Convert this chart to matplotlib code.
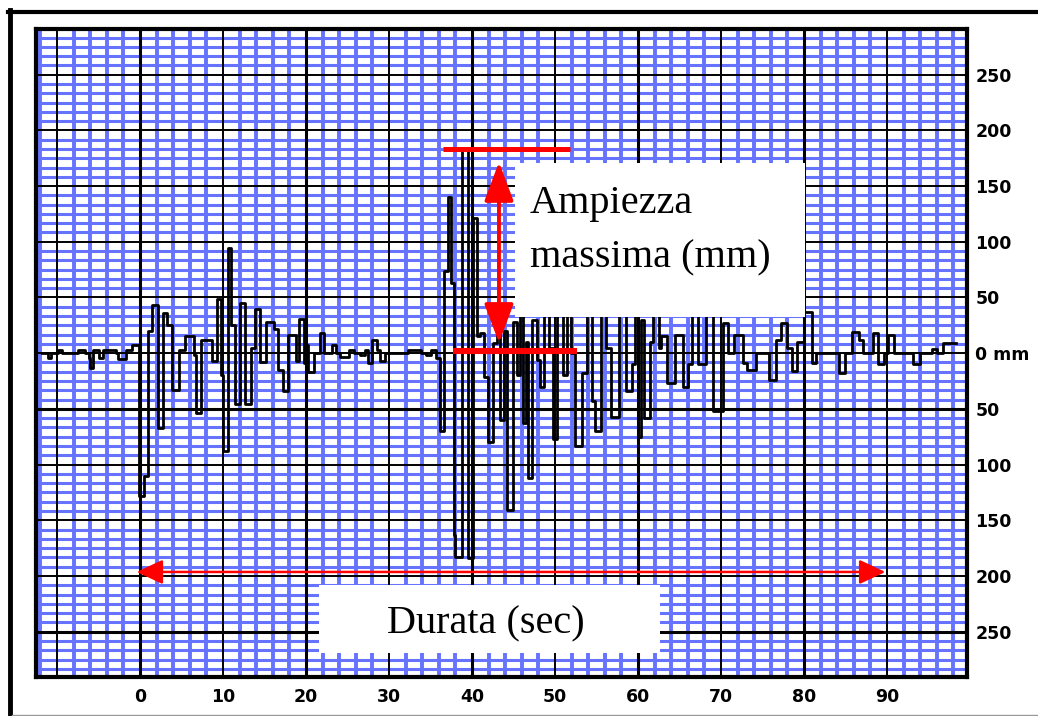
import matplotlib
matplotlib.use("Agg")
import matplotlib.pyplot as plt
from matplotlib.patches import Rectangle, FancyArrowPatch
from matplotlib.lines import Line2D
import numpy as np

# seismogram trace: time [s] and amplitude [mm], drawn as steps
t_trace = [-11.8, -11.1, -10.7, -9.9, -9.4, -7.5, -6.6, -6.2, -6.0, -5.7, -4.9, -4.5, -2.9, -2.6, -1.7, -1.0,
           -0.1, 0.5, 1.0, 1.4, 2.2, 2.8, 3.2, 3.8, 4.7, 5.4, 6.5, 6.8, 7.4, 8.7, 9.3, 9.7, 10.0, 10.6, 11.0, 11.4,
           12.0, 12.6, 13.4, 13.9, 14.4, 15.2, 16.2, 16.6, 17.2, 17.8, 18.8, 19.1, 19.8, 20.1, 20.3, 21.0, 21.7, 22.2,
           23.1, 23.6, 24.1, 25.2, 25.8, 26.5, 27.1, 27.5, 28.0, 28.6, 28.9, 29.5, 32.3, 33.8, 34.5, 35.1, 35.7,
           36.1, 36.6, 37.1, 37.5, 37.8, 38.0, 38.8, 39.5, 40.1, 40.6, 41.0, 41.4, 41.9, 42.5, 43.0, 43.4, 43.9, 44.2,
           44.9, 45.4, 45.8, 46.1, 46.5, 46.7, 47.2, 47.8, 48.2, 48.7, 49.3, 49.8, 50.3, 51.0, 51.4, 51.9, 52.4, 53.3,
           53.8, 54.4, 54.8, 55.6, 56.2, 56.7, 57.7, 58.5, 59.3, 59.6, 60.0, 60.4, 60.7, 61.5, 61.8, 62.5, 62.8, 63.5,
           64.4, 65.4, 66.0, 66.5, 67.2, 68.2, 69.0, 70.2, 70.8, 71.6, 72.6, 73.1, 74.2, 75.8, 76.6, 77.2, 78.0, 78.6,
           79.2, 80.0, 81.0, 81.5, 84.2, 84.9, 85.8, 86.6, 87.1, 88.3, 88.9, 89.6, 90.1, 90.8, 93.1, 94.0, 95.4, 96.0,
           96.8, 98.3]
a_trace = [0, -4, 0, 3, 0, 3, 0, -4, -13, 3, -4, 3, 0, -5, 3, 7,
           -128, -110, 20, 43, -67, 36, 25, -33, 3, 15, -2, -54, 12, -7, 49, -20, -88, 94, 25, -46,
           45, -46, 5, 40, -8, 28, 22, -15, -34, 16, -7, 31, -9, 7, -17, 0, 18, 0,
           7, 0, -3, 3, 0, -2, 3, -9, 12, 3, -7, 0, 3, 0, -2, 3, -4,
           -70, 74, 140, 63, -163, -183, 182, -184, 121, 15, 18, -21, -80, 9, 24, -60, 20, -141,
           28, -20, 40, -63, 10, -112, 30, -6, -30, 40, 5, -77, 40, -20, 40, 0, -83, -18,
           40, -43, -70, 40, 5, -57, 40, -34, -10, 40, -75, 30, -58, 10, 40, 5, 15, -27,
           16, -30, -10, 40, -10, 40, -52, 27, 0, 16, -9, -15, 0, -24, 12, 27, 5, -16,
           10, 37, -9, 0, -18, 0, 19, 12, 0, 18, -10, 0, 16, 0, -10, 0, 4, 0,
           9, 9]

x_ticks = [0, 10, 20, 30, 40, 50, 60, 70, 80, 90]
y_ticks = [-250, -200, -150, -100, -50, 0, 50, 100, 150, 200, 250]
y_labels = [str(abs(v)) if v != 0 else "0 mm" for v in y_ticks]

duration = (-0.4, 89.8)   # red horizontal arrow
blue = "#6673ff"

fig = plt.figure(figsize=(10.38, 7.16), dpi=100)
ax = fig.add_axes([36 / 1038, 39 / 716, 931 / 1038, 648 / 716])
ax.set_xlim(-12.53, 99.64)
ax.set_ylim(-290.7, 291.0)

# blue chart paper
minor_x = [v for v in range(-12, 100, 2) if v % 10 != 0]
minor_y = [k * 50 / 6 for k in range(-34, 35) if k % 6 != 0]
ax.vlines(minor_x, -300, 300, color=blue, lw=2.8, zorder=1)
ax.hlines(minor_y, -20, 110, color=blue, lw=2.2, zorder=1)

# black major lines
for v in range(-10, 100, 10):
    ax.axvline(v, color="black", lw=2.2 if v in (0, 20, 40, 60, 80) else 1.4, zorder=1.5)
for v in range(-250, 300, 50):
    ax.axhline(v, color="black", lw=2.2 if v in (-50, -250) else 1.4, zorder=1.5)

ax.plot(t_trace, a_trace, drawstyle="steps-post", color="black", lw=2.0, zorder=2)

# white label boxes
ax.add_patch(Rectangle((45.2, 32.3), 34.9, 138.2, facecolor="white", edgecolor="none", zorder=3))
ax.add_patch(Rectangle((21.6, -269), 41.1, 61, facecolor="white", edgecolor="none", zorder=3))

# amplitude markers
peak = max(a_trace)
ax.hlines(peak + 1, 36.5, 51.8, color="red", lw=3.6, zorder=4)
ax.hlines(2, 37.7, 52.7, color="red", lw=4.4, zorder=4)
ax.add_patch(FancyArrowPatch((43.25, 171.6), (43.25, 9.2),
                             arrowstyle="<|-|>,head_length=2.4,head_width=0.9",
                             mutation_scale=10, lw=2.8, color="red", shrinkA=0, shrinkB=0, zorder=4))
ax.add_patch(FancyArrowPatch((duration[0], -196.4), (duration[1], -196.4),
                             arrowstyle="<|-|>,head_length=1.6,head_width=0.75",
                             mutation_scale=10, lw=1.8, color="red", shrinkA=0, shrinkB=0, zorder=4))

serif = "Liberation Serif"
fig.text(530 / 1038, 1 - 213 / 716, "Ampiezza", family=serif, fontsize=29, va="baseline")
fig.text(530 / 1038, 1 - 267 / 716, "massima (mm)", family=serif, fontsize=29, va="baseline")
fig.text(387 / 1038, 1 - 633 / 716, "Durata (sec)", family=serif, fontsize=29, va="baseline")

# axes and ticks
ax.set_xticks(x_ticks)
ax.set_xticklabels([str(v) for v in x_ticks])
ax.yaxis.tick_right()
ax.set_yticks(y_ticks)
ax.set_yticklabels(y_labels)
ax.tick_params(axis="x", length=0, pad=8)
ax.tick_params(axis="y", length=0, pad=6)
for lab in ax.get_xticklabels() + ax.get_yticklabels():
    lab.set_fontfamily("DejaVu Sans")
    lab.set_fontweight("bold")
    lab.set_fontsize(12.5)
for s in ax.spines.values():
    s.set_linewidth(3)
    s.set_zorder(6)

# outer frame
fig.add_artist(Line2D([8 / 1038, 1], [1 - 12 / 716] * 2, color="black", lw=3))
fig.add_artist(Line2D([10 / 1038] * 2, [0, 1 - 10 / 716], color="black", lw=3.5))
fig.add_artist(Line2D([12 / 1038, 1], [1.5 / 716] * 2, color="#999999", lw=1))

fig.savefig("out.png", dpi=100)
